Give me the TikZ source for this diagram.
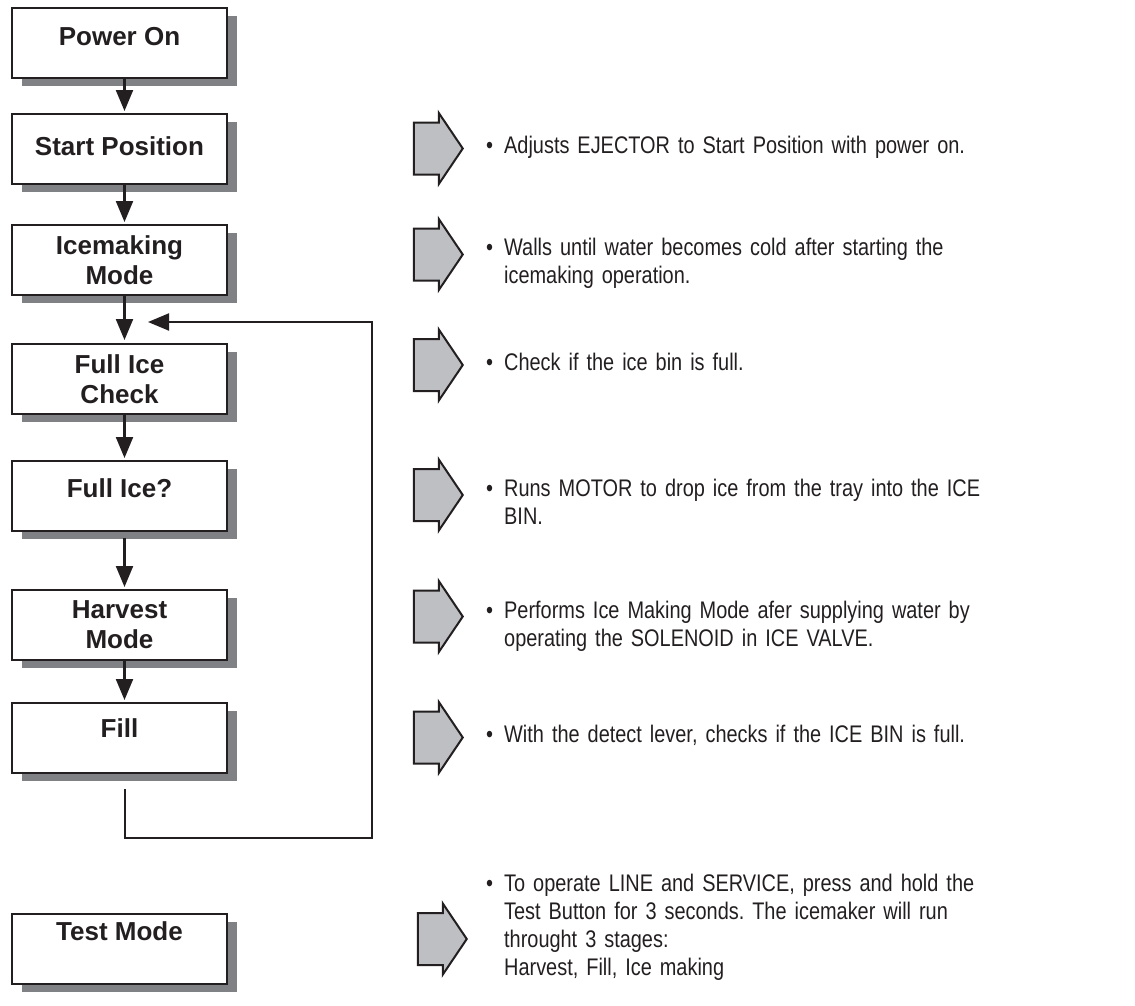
\documentclass[tikz,border=0pt]{standalone}
\usepackage{fontspec}
\setmainfont{Liberation Sans}
\newfontfamily\notefont[FakeStretch=0.83]{Liberation Sans}
\usetikzlibrary{arrows.meta, positioning, shapes.arrows, shadows}
\definecolor{cShadow}{RGB}{128,129,133}
\definecolor{cArrow}{RGB}{190,191,195}
\definecolor{cInk}{RGB}{35,31,32}
\tikzset{
  stepbox/.style={rectangle, draw=cInk, line width=2pt, fill=white,
                  minimum width=215pt, minimum height=70pt, inner sep=3pt,
                  align=center, font=\fontsize{26}{30}\selectfont\bfseries,
                  drop shadow={shadow xshift=10pt, shadow yshift=-8pt,
                               fill=cShadow, opacity=1}},
  blockarrow/.style={single arrow, draw=cInk, fill=cArrow, line width=2pt,
                     minimum height=49pt, inner xsep=0pt, inner ysep=25pt,
                     single arrow head extend=9.5pt, single arrow tip angle=112},
  note/.style={anchor=base west, text width=650pt, align=left, inner sep=0pt,
               font=\notefont\fontsize{24}{28}\selectfont\frenchspacing,
               execute at begin node={\leftskip=18pt\leavevmode\llap{\makebox[18pt][l]{\textbullet}}}},
  flow/.style={-{Triangle[length=21pt, width=17pt]}, line width=2.2pt, draw=cInk}
}
\begin{document}
\begin{tikzpicture}[x=1pt, y=-1pt, text=cInk]
  \useasboundingbox (0,0) rectangle (1135,1005);

  % Flow boxes
  \node[stepbox, text depth=13pt] (pwr) at (119.5,43) {Power On};
  \node[stepbox, text depth=5pt, below=34pt of pwr] (startpos) {Start Position};
  \node[stepbox, below=39pt of startpos] (icemode) {Icemaking\\Mode};
  \node[stepbox, below=47pt of icemode] (check) {Full Ice\\Check};
  \node[stepbox, text depth=16pt, below=45pt of check] (fullq) {Full Ice?};
  \node[stepbox, below=57pt of fullq] (harvest) {Harvest\\Mode};
  \node[stepbox, text depth=19pt, below=41pt of harvest] (fillst) {Fill};
  \node[stepbox, text depth=35pt, below=139pt of fillst] (test) {Test Mode};

  % Arrows between boxes
  \draw[flow, shorten >=2pt] ([xshift=5pt]pwr.south) -- ([xshift=5pt]startpos.north);
  \draw[flow, shorten >=2pt] ([xshift=5pt]startpos.south) -- ([xshift=5pt]icemode.north);
  \draw[flow, shorten >=3pt] ([xshift=5pt]icemode.south) -- ([xshift=5pt]check.north);
  \draw[flow, shorten >=2pt] ([xshift=5pt]check.south) -- ([xshift=5pt]fullq.north);
  \draw[flow, shorten <=6pt, shorten >=2pt] ([xshift=5pt]fullq.south) -- ([xshift=5pt]harvest.north);
  \draw[flow, shorten >=2pt] ([xshift=5pt]harvest.south) -- ([xshift=5pt]fillst.north);

  % Return loop
  \coordinate (backcorner) at (372,322);
  \coordinate (backtip) at (148,322);
  \draw[flow, line width=2pt] ([xshift=5pt,yshift=-15pt]fillst.south) -- ++(0,49) -| (backcorner) -- (backtip);

  % Block arrows
  \node[blockarrow] (a1) at (429.5,148.5) {};
  \node[blockarrow] (a2) at (429.5,254.5) {};
  \node[blockarrow] (a3) at (429.5,365) {};
  \node[blockarrow] (a4) at (429.5,495) {};
  \node[blockarrow] (a5) at (429.5,616.5) {};
  \node[blockarrow] (a6) at (429.5,737.5) {};
  \node[blockarrow] (a7) at (433.5,939) {};

  % Notes
  \node[note] (t1) at ([xshift=22pt,yshift=-4.5pt]a1.tip)
      {Adjusts EJECTOR to Start Position with power on.};
  \node[note] (t2) at ([xshift=22pt,yshift=-0.5pt]a2.tip)
      {Walls until water becomes cold after starting the\\icemaking operation.};
  \node[note] (t3) at ([xshift=22pt,yshift=-5pt]a3.tip)
      {Check if the ice bin is full.};
  \node[note] (t4) at ([xshift=22pt,yshift=-1pt]a4.tip)
      {Runs MOTOR to drop ice from the tray into the ICE\\BIN.};
  \node[note] (t5) at ([xshift=22pt,yshift=-1.5pt]a5.tip)
      {Performs Ice Making Mode afer supplying water by\\operating the SOLENOID in ICE VALVE.};
  \node[note] (t6) at ([xshift=22pt,yshift=-5pt]a6.tip)
      {With the detect lever, checks if the ICE BIN is full.};
  \node[note] (t7) at ([xshift=18pt,yshift=47.5pt]a7.tip)
      {To operate LINE and SERVICE, press and hold the\\Test Button for 3 seconds. The icemaker will run\\throught 3 stages:\\Harvest, Fill, Ice making};
\end{tikzpicture}
\end{document}
